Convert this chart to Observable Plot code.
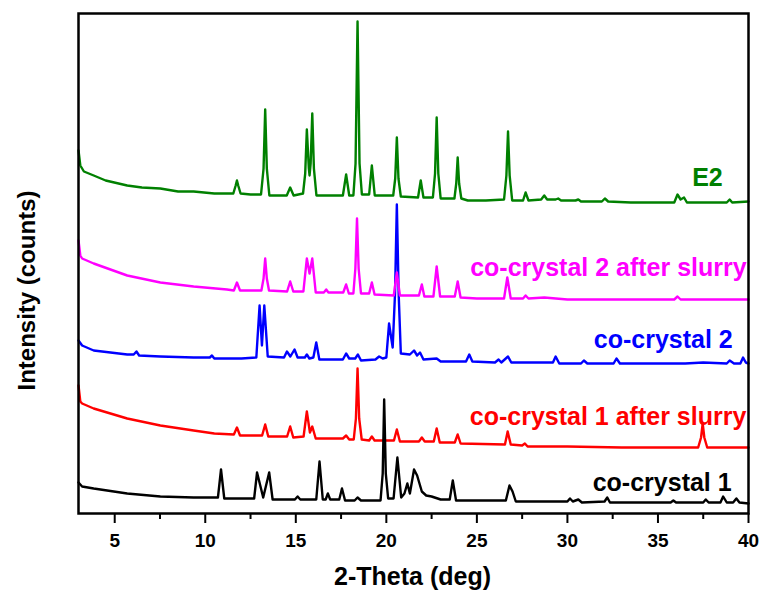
<!DOCTYPE html>
<html>
<head>
<meta charset="utf-8">
<script src="https://cdn.jsdelivr.net/npm/d3@7"></script>
<script src="https://cdn.jsdelivr.net/npm/@observablehq/plot@0.6"></script>
<style>
  html, body { margin: 0; padding: 0; background: #fff; }
  #chart { width: 762px; height: 594px; }
</style>
</head>
<body>
<div id="chart"></div>
<script>
// ---- Data: [2-Theta (deg), offset intensity (a.u.)] ----
const e2 = [
  [3.0, 363], [3.1, 348], [3.3, 342], [3.84, 338], [4.5, 333], [5.69, 328], [6.5, 326], [7.52, 325],
  [8.5, 322], [9.36, 322], [10.5, 320], [11.55, 320], [11.68, 328], [11.75, 333], [11.82, 328], [11.95, 320], [12.5, 319],
  [13.08, 319], [13.22, 345], [13.31, 404], [13.4, 345], [13.54, 318], [14.5, 318], [14.69, 326], [14.88, 318], [15.4, 320],
  [15.52, 340], [15.61, 384], [15.72, 345], [15.76, 338], [15.82, 350], [15.91, 400], [16.0, 345], [16.14, 318], [17.0, 318], [17.6, 318], [17.78, 339],
  [17.95, 318], [18.18, 318], [18.3, 350], [18.41, 492], [18.52, 350], [18.65, 319], [19.05, 319], [19.2, 348], [19.36, 318],
  [20.0, 318], [20.38, 318], [20.49, 335], [20.58, 376], [20.67, 335], [20.8, 317], [21.75, 316], [21.9, 333], [22.05, 316],
  [22.57, 316], [22.69, 340], [22.78, 396], [22.87, 340], [23.0, 315], [23.76, 315], [23.86, 330], [23.94, 356], [24.02, 330], [24.14, 315], [24.5, 313],
  [25.5, 313], [26.5, 314], [26.63, 338], [26.72, 382], [26.81, 338], [26.95, 313], [27.55, 313], [27.69, 321], [27.85, 313],
  [28.55, 314], [28.72, 318], [28.88, 314], [29.35, 314], [29.49, 315], [29.65, 313], [30.45, 313],
  [30.6, 314], [30.75, 312], [31.9, 312], [32.07, 315], [32.25, 312], [33.5, 311], [35.0, 311],
  [35.9, 311], [36.08, 319], [36.25, 314], [36.44, 316], [36.6, 311], [37.5, 311], [38.8, 311],
  [38.96, 314], [39.1, 311], [40.0, 312]
];
const cocrystal2Slurry = [
  [3.0, 273], [3.1, 258], [3.2, 255], [3.84, 250], [5.69, 238], [7.52, 231], [9.36, 227], [11.2, 224],
  [11.58, 223], [11.75, 231], [11.92, 223], [13.1, 223], [13.22, 235], [13.31, 255], [13.4, 235], [13.52, 223], [14.52, 222],
  [14.69, 232], [14.86, 222], [15.42, 222], [15.61, 255], [15.76, 240], [15.91, 255], [16.1, 221],
  [16.55, 221], [16.68, 224], [16.8, 221], [17.62, 221], [17.78, 229], [17.93, 220], [18.18, 220],
  [18.29, 245], [18.38, 295], [18.47, 245], [18.6, 220], [19.05, 220], [19.2, 231], [19.35, 219], [20.41, 218], [20.58, 241],
  [20.75, 218], [21.8, 218], [21.96, 229], [22.1, 217], [22.6, 217], [22.78, 247], [22.97, 217],
  [23.78, 217], [23.94, 232], [24.1, 216], [25.0, 215], [26.5, 215], [26.68, 236], [26.87, 215],
  [27.55, 215], [27.69, 218], [27.85, 215], [28.72, 216], [30.0, 214], [33.0, 214], [35.9, 214],
  [36.08, 217], [36.25, 214], [38.0, 214], [40.0, 214]
];
const cocrystal2 = [
  [3.0, 173], [3.2, 168], [3.84, 163], [5.69, 159], [6.05, 159], [6.2, 162], [6.35, 158], [7.52, 157],
  [9.36, 156], [10.25, 156], [10.37, 158], [10.5, 155], [12.0, 155], [12.82, 156], [13.0, 208],
  [13.13, 168], [13.26, 208], [13.45, 157], [14.35, 156], [14.51, 162], [14.7, 157], [14.93, 164],
  [15.1, 156], [15.5, 156], [15.61, 159], [15.75, 155], [15.97, 156], [16.13, 171], [16.3, 154],
  [17.6, 154], [17.78, 160], [17.95, 155], [18.28, 155], [18.43, 159], [18.6, 153], [19.4, 154],
  [19.6, 157], [19.8, 155], [20.0, 156], [20.15, 190], [20.35, 166], [20.48, 220], [20.58, 309], [20.68, 220], [20.8, 160],
  [21.3, 159], [21.53, 163], [21.7, 158], [21.86, 161], [22.05, 154], [22.78, 155], [23.0, 152],
  [24.4, 152], [24.58, 159], [24.75, 152], [26.0, 151], [26.2, 154], [26.35, 151], [26.72, 157],
  [26.9, 151], [28.3, 151], [29.2, 151], [29.35, 157], [29.55, 150], [30.75, 150], [30.91, 153],
  [31.1, 150], [32.55, 150], [32.71, 155], [32.9, 150], [36.5, 150], [37.5, 151], [38.8, 150],
  [38.96, 153], [39.2, 150], [39.55, 150], [39.7, 156], [39.85, 151], [40.0, 150]
];
const cocrystal1Slurry = [
  [3.0, 128], [3.1, 112], [3.2, 110], [3.84, 105], [5.69, 95], [7.52, 88], [9.36, 83], [10.5, 80],
  [11.58, 79], [11.75, 86], [11.92, 78], [13.14, 78], [13.31, 89], [13.48, 77], [14.52, 77],
  [14.69, 87], [14.86, 76], [15.43, 77], [15.61, 102], [15.78, 81], [15.91, 87], [16.1, 75],
  [17.6, 75], [17.78, 78], [17.95, 74], [18.2, 74], [18.32, 95], [18.41, 145], [18.5, 95], [18.64, 74], [19.05, 73],
  [19.2, 77], [19.35, 73], [20.42, 73], [20.58, 84], [20.75, 72], [21.8, 72], [21.96, 76],
  [22.12, 72], [22.62, 72], [22.78, 85], [22.95, 71], [23.78, 71], [23.94, 79], [24.1, 70],
  [26.55, 69], [26.7, 82], [26.87, 69], [27.5, 68], [27.65, 70], [27.8, 67], [30.0, 67], [33.0, 66],
  [37.22, 66], [37.38, 76], [37.47, 90], [37.56, 76], [37.72, 66], [40.0, 66]
];
const cocrystal1 = [
  [3.0, 31], [3.2, 27], [3.84, 25], [5.69, 20], [7.52, 17], [9.36, 16], [10.7, 16], [10.87, 44],
  [11.05, 15], [12.7, 15], [12.86, 41], [13.2, 16], [13.53, 41], [13.72, 14], [14.95, 14], [15.1, 17],
  [15.25, 14], [16.13, 14], [16.31, 52], [16.49, 14], [16.65, 14], [16.77, 20], [16.9, 14],
  [17.4, 14], [17.55, 25], [17.72, 13], [18.25, 13], [18.41, 16], [18.6, 13], [19.68, 13],
  [19.8, 40], [19.88, 114], [19.97, 40], [20.1, 15], [20.4, 15], [20.61, 56], [20.82, 16], [21.0, 20], [21.16, 30],
  [21.3, 20], [21.53, 44], [21.7, 38], [21.96, 22], [22.2, 18], [22.5, 17], [23.0, 14], [23.5, 14],
  [23.67, 33], [23.85, 13], [24.6, 13], [26.6, 13], [26.8, 28], [26.97, 22], [27.15, 12],
  [28.5, 12], [30.0, 12], [30.14, 15], [30.3, 12], [30.6, 14], [30.8, 11], [32.05, 12], [32.2, 16],
  [32.35, 11], [34.5, 11], [35.7, 11], [35.85, 13], [36.0, 11], [37.5, 11], [37.64, 14], [37.8, 11],
  [38.45, 11], [38.6, 17], [38.8, 11], [39.15, 11], [39.33, 15], [39.5, 11], [40.0, 10]
];

// Series labels and where their right end sits (data coordinates)
const seriesNames = ["co-crystal 1 after slurry", "co-crystal 1", "co-crystal 2", "co-crystal 2 after slurry", "E2"];
const seriesColors = ["#ff0000", "#000000", "#0000ff", "#ff00ff", "#008000"];
const labelTheta = [39.88, 39.07, 39.13, 39.9, 38.58];
const labelIntensity = [97, 31, 174, 246, 336];

const majorTicks = [5, 10, 15, 20, 25, 30, 35, 40];
const minorTicks = [7.5, 12.5, 17.5, 22.5, 27.5, 32.5, 37.5];

const seriesData = [cocrystal1Slurry, cocrystal1, cocrystal2, cocrystal2Slurry, e2];

const font = "'Liberation Sans', Arial, Helvetica, sans-serif";

const lineMarks = seriesData.map((d, i) =>
  Plot.line(d, {x: p => p[0], y: p => p[1], stroke: seriesColors[i], strokeWidth: 2.4, strokeLinejoin: "round", strokeLinecap: "round"})
);

const labels = seriesNames.map((name, i) => ({name, theta: labelTheta[i], intensity: labelIntensity[i], color: seriesColors[i]}));

const chart = Plot.plot({
  width: 762,
  height: 594,
  marginLeft: 78,
  marginRight: 14,
  marginTop: 13,
  marginBottom: 81,
  style: {fontFamily: font, fontSize: "19px", fontWeight: "bold", background: "#fff", color: "#000"},
  x: {domain: [3, 40]},
  y: {domain: [0, 500], axis: null},
  marks: [
    ...lineMarks,
    Plot.text(labels, {x: "theta", y: "intensity", text: "name", fill: "color", textAnchor: "end", lineAnchor: "middle", fontSize: 25, fontWeight: "bold", fontFamily: font}),
    Plot.axisX({ticks: minorTicks, tickSize: 6, text: null, strokeWidth: 2, label: null}),
    Plot.axisX({ticks: majorTicks, tickSize: 10, tickPadding: 10, strokeWidth: 2, fontSize: 19, fontWeight: "bold", label: null, tickFormat: d => String(d)}),
    Plot.frame({stroke: "#000", strokeWidth: 2.5}),
    Plot.text(["2-Theta (deg)"], {frameAnchor: "bottom", lineAnchor: "middle", dy: 63, dx: -1, fontSize: 25, fontWeight: "bold", fontFamily: font}),
    Plot.text(["Intensity (counts)"], {frameAnchor: "left", rotate: -90, textAnchor: "middle", lineAnchor: "middle", dx: -51, dy: 27, fontSize: 24, fontWeight: "bold", fontFamily: font})
  ]
});
document.getElementById("chart").appendChild(chart);
</script>
</body>
</html>
